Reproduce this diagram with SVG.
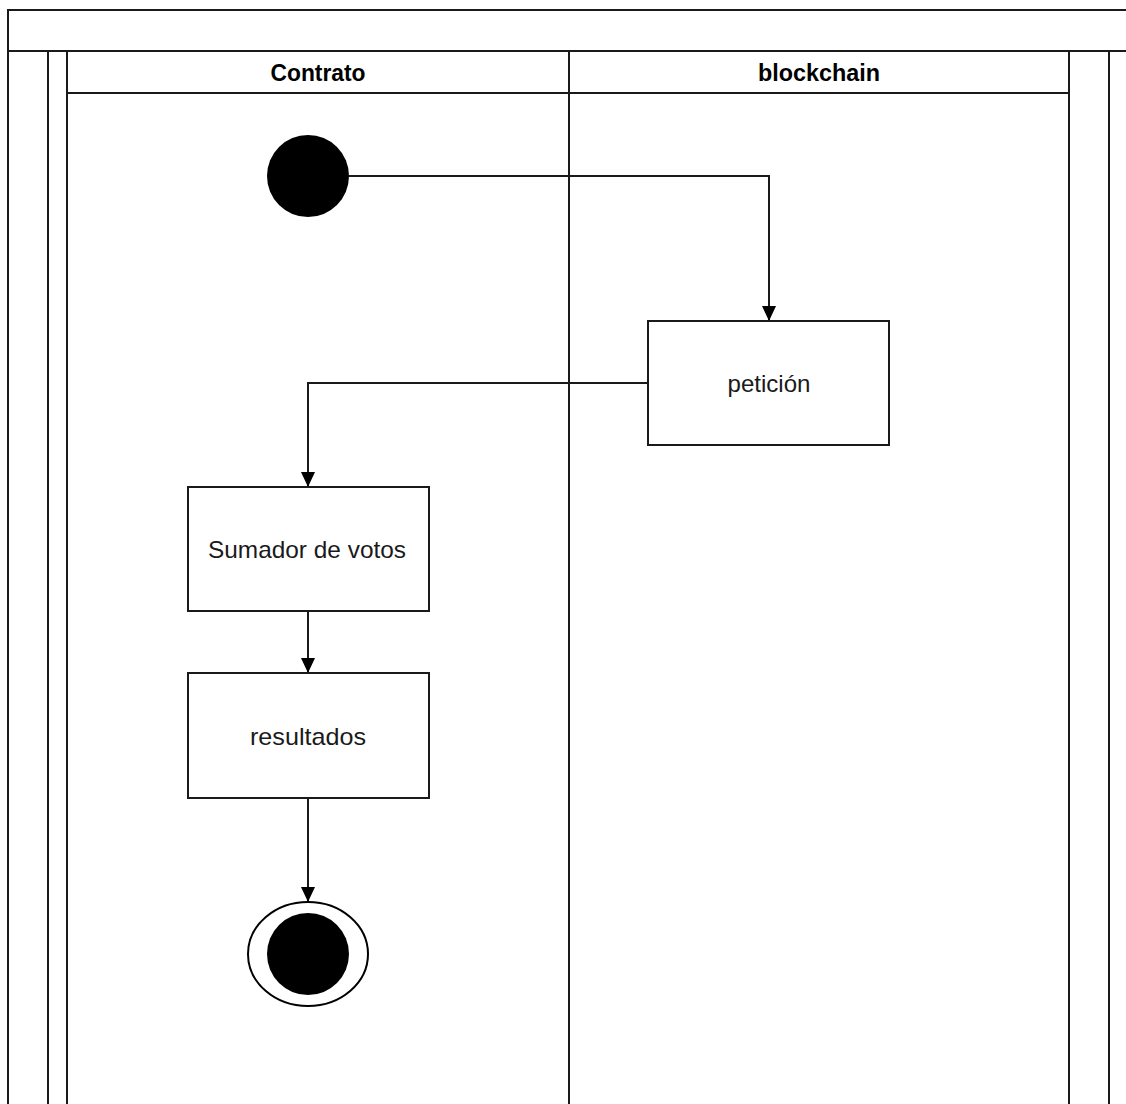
<svg xmlns="http://www.w3.org/2000/svg" width="1126" height="1104" viewBox="0 0 1126 1104">
<style>
.ln{stroke:#1a1a1a;stroke-width:2;fill:none}
.box{stroke:#1a1a1a;stroke-width:2;fill:#ffffff}
.hd{font-family:"Liberation Sans",Arial,sans-serif;font-size:23px;font-weight:bold;fill:#000;text-anchor:middle}
.tx{font-family:"Liberation Sans",Arial,sans-serif;font-size:24px;fill:#1a1a1a;text-anchor:middle}
.edge{stroke:#1a1a1a;stroke-width:2;fill:none;marker-end:url(#arr)}
</style>
<defs>
<marker id="arr" viewBox="0 0 15 14" refX="15" refY="7" markerWidth="15" markerHeight="14" markerUnits="userSpaceOnUse" orient="auto">
<path d="M0,0 L15,7 L0,14 Z" fill="#000"/>
</marker>
</defs>
<rect width="1126" height="1104" fill="#fff"/>
<g id="pool">
<path class="ln" d="M8,1104 V10 H1130"/>
<path class="ln" d="M8,51 H1130"/>
<path class="ln" d="M48,51 V1104 M67,51 V1104 M569,51 V1104 M1069,51 V1104 M1109,51 V1104"/>
<path class="ln" d="M67,93 H1069"/>
</g>
<g id="lane-contrato"><text class="hd" x="318" y="81" textLength="95" lengthAdjust="spacingAndGlyphs">Contrato</text></g>
<g id="lane-blockchain"><text class="hd" x="819" y="81" textLength="122" lengthAdjust="spacingAndGlyphs">blockchain</text></g>
<g id="connectors">
<path class="edge" d="M349,176 H769 V321"/>
<path class="edge" d="M648,383 H308 V487"/>
<path class="edge" d="M308,611 V673"/>
<path class="edge" d="M308,798 V902"/>
</g>
<g id="start"><circle cx="308" cy="176" r="41" fill="#000"/></g>
<g id="peticion"><rect class="box" x="648" y="321" width="241" height="124"/><text class="tx" x="769" y="392" textLength="83" lengthAdjust="spacingAndGlyphs">petición</text></g>
<g id="sumador"><rect class="box" x="188" y="487" width="241" height="124"/><text class="tx" x="307" y="558" textLength="198" lengthAdjust="spacingAndGlyphs">Sumador de votos</text></g>
<g id="resultados"><rect class="box" x="188" y="673" width="241" height="125"/><text class="tx" x="308" y="745" textLength="116" lengthAdjust="spacingAndGlyphs">resultados</text></g>
<g id="end"><ellipse cx="308" cy="954" rx="60" ry="52" fill="#fff" stroke="#000" stroke-width="2"/><circle cx="308" cy="954" r="41" fill="#000"/></g>
</svg>
